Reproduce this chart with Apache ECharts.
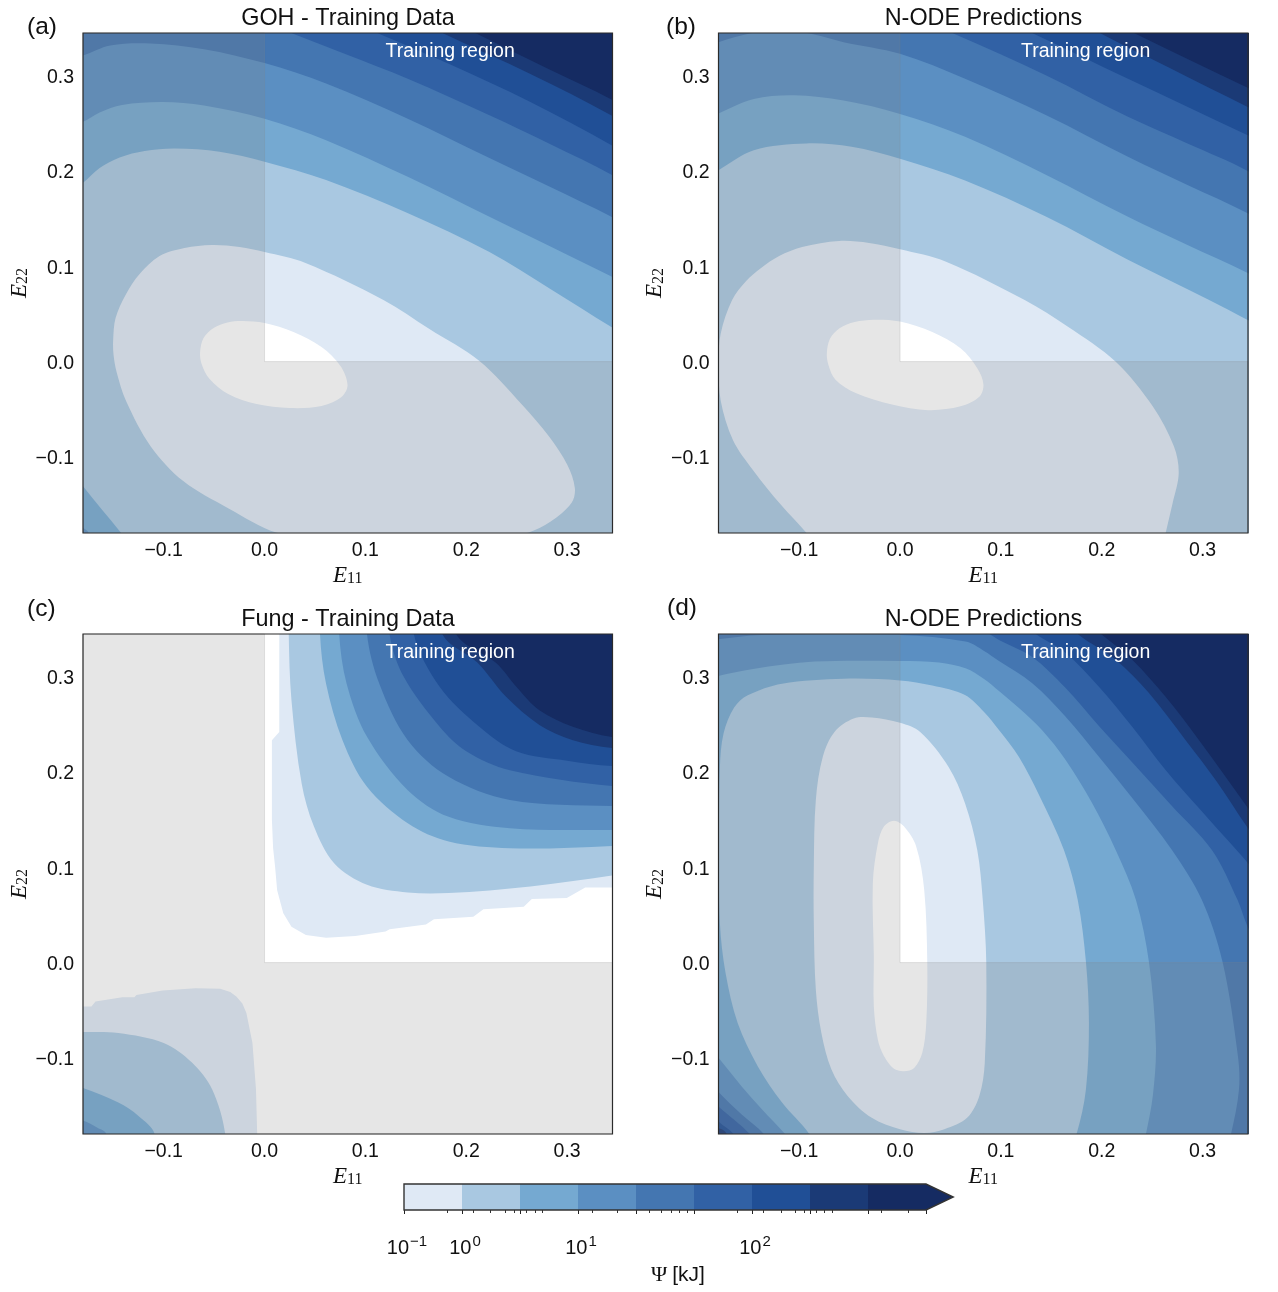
<!DOCTYPE html>
<html>
<head>
<meta charset="utf-8">
<title>Strain energy contours</title>
<script src="https://cdn.jsdelivr.net/npm/echarts@6/dist/echarts.min.js"></script>
<style>
  html, body { margin: 0; padding: 0; background: #fff; }
  #main { width: 1278px; height: 1292px; }
</style>
</head>
<body>
<div id="main"></div>
<script>
// colours of the contourf bands, light to dark
const bandColors = ['#dfe9f5', '#a9c8e1', '#75a9d1', '#5b8fc2', '#4476b1', '#3161a5', '#204f96', '#1b3a76', '#152b62'];
const underColor = '#ffffff';

const axisLimits = [-0.18, 0.345];
const tickValues = [-0.1, 0, 0.1, 0.2, 0.3];
const panelTitles = ['GOH - Training Data', 'N-ODE Predictions', 'Fung - Training Data', 'N-ODE Predictions'];
const panelLetters = ['(a)', '(b)', '(c)', '(d)'];

// every ring is [E11, E22], points past the limits only close the shape
const wholeBox = [[-0.6, -0.6], [0.6, -0.6], [0.6, 0.6], [-0.6, 0.6]];

// (a) GOH
const gohLevel0 = [[-0.0639, 0.01], [-0.0605, 0.0247], [-0.0505, 0.0352], [-0.0367, 0.041], [-0.0218, 0.0425], [0, 0.0404], [0.0287, 0.031], [0.0565, 0.0152], [0.0753, -0.0047], [0.0823, -0.0247], [0.0763, -0.0373], [0.0565, -0.0467], [0.0248, -0.0488], [-0.0079, -0.0446], [-0.0361, -0.0341], [-0.0545, -0.0184], [-0.0624, -0.0026]];
const gohLevel1 = [[-0.1501, 0.0226], [-0.1477, 0.0457], [-0.1378, 0.0699], [-0.1239, 0.0919], [-0.1041, 0.1108], [-0.0793, 0.1192], [-0.0525, 0.1224], [-0.0248, 0.1203], [0, 0.115], [0.0406, 0.1035], [0.1179, 0.0646], [0.1635, 0.0341], [0.2131, 0.0005], [0.2547, -0.0446], [0.2825, -0.0793], [0.3003, -0.1087], [0.3077, -0.1329], [0.3043, -0.1486], [0.2834, -0.1683], [0.2612, -0.1798], [0.15, -0.215], [0.0124, -0.1798], [-0.0361, -0.1539], [-0.0806, -0.1255], [-0.113, -0.0888], [-0.1373, -0.0415], [-0.1467, -0.011], [-0.1497, 0.0068]];
const gohLevel2 = [[-0.18, 0.1878], [-0.1635, 0.2033], [-0.1437, 0.2143], [-0.1189, 0.2211], [-0.0887, 0.2237], [-0.0446, 0.2204], [0, 0.2099], [0.061, 0.1907], [0.1417, 0.156], [0.223, 0.115], [0.2834, 0.0762], [0.3439, 0.0362], [0.4, 0], [0.5, -0.1], [0.5, -0.35], [-0.1, -0.35], [-0.12, -0.21], [-0.143, -0.179], [-0.18, -0.131], [-0.21, -0.09], [-0.26, 0], [-0.26, 0.1], [-0.21, 0.165]];
const gohLevel3 = [[-0.18, 0.2517], [-0.1635, 0.2616], [-0.1413, 0.2695], [-0.101, 0.2726], [-0.06, 0.269], [0, 0.255], [0.061, 0.2325], [0.142, 0.194], [0.223, 0.152], [0.284, 0.1205], [0.3445, 0.089], [0.4, 0.06], [0.5, -0.1], [0.5, -0.35], [-0.15, -0.35], [-0.1745, -0.18], [-0.18, -0.1745], [-0.26, -0.1], [-0.26, 0.2], [-0.22, 0.235]];
const gohLevel4 = [[-0.18, 0.3215], [-0.153, 0.332], [-0.113, 0.334], [-0.06, 0.328], [0, 0.3134], [0.061, 0.292], [0.142, 0.255], [0.223, 0.2137], [0.2834, 0.1833], [0.3439, 0.1521], [0.4, 0.12], [0.5, -0.1], [0.5, -0.35], [-0.3, -0.35], [-0.3, 0.28], [-0.22, 0.31]];
const gohLevel5 = [[-0.3, 0.42], [-0.05, 0.377], [0.029, 0.344], [0.08, 0.323], [0.142, 0.297], [0.223, 0.2586], [0.284, 0.228], [0.3445, 0.196], [0.4, 0.16], [0.5, -0.1], [0.5, -0.35], [-0.3, -0.35]];
const gohLevel6 = [[-0.3, 0.45], [0.05, 0.373], [0.114, 0.344], [0.1826, 0.3127], [0.2636, 0.2726], [0.3445, 0.227], [0.4, 0.19], [0.5, -0.1], [0.5, -0.35], [-0.3, -0.35]];
const gohLevel7 = [[-0.3, 0.45], [0.12, 0.375], [0.1785, 0.344], [0.2636, 0.302], [0.3445, 0.258], [0.4, 0.22], [0.5, -0.1], [0.5, -0.35], [-0.3, -0.35]];
const gohLevel8 = [[-0.3, 0.45], [0.15, 0.375], [0.211, 0.344], [0.28, 0.308], [0.3445, 0.275], [0.4, 0.24], [0.5, -0.1], [0.5, -0.35], [-0.3, -0.35]];

// (b) N-ODE on GOH
const nodeGohLevel0 = [[-0.0726, 0.0087], [-0.0695, 0.024], [-0.06, 0.035], [-0.045, 0.0415], [-0.026, 0.044], [0, 0.042], [0.032, 0.031], [0.06, 0.014], [0.0766, -0.007], [0.0827, -0.024], [0.0786, -0.037], [0.06, -0.047], [0.028, -0.051], [-0.008, -0.045], [-0.044, -0.033], [-0.064, -0.019], [-0.071, -0.0035]];
const nodeGohLevel1 = [[-0.18, 0], [-0.1778, 0.0296], [-0.1665, 0.0646], [-0.1526, 0.0846], [-0.1378, 0.0982], [-0.1199, 0.1108], [-0.0971, 0.1203], [-0.0605, 0.1266], [-0.0307, 0.1245], [0, 0.1179], [0.0456, 0.1049], [0.1236, 0.0646], [0.1665, 0.0366], [0.2136, 0], [0.2507, -0.0473], [0.2716, -0.0893], [0.2763, -0.1172], [0.2703, -0.1485], [0.2634, -0.1797], [0.2567, -0.21], [0.1, -0.3], [-0.07, -0.21], [-0.0929, -0.1797], [-0.1179, -0.1507], [-0.1457, -0.114], [-0.1656, -0.0825], [-0.1778, -0.0412]];
const nodeGohLevel2 = [[-0.18, 0.201], [-0.145, 0.222], [-0.093, 0.229], [-0.048, 0.2255], [0, 0.213], [0.0645, 0.19], [0.145, 0.152], [0.226, 0.107], [0.306, 0.065], [0.3447, 0.0436], [0.4, 0.01], [0.5, -0.1], [0.5, -0.35], [-0.3, -0.35], [-0.3, 0.1], [-0.22, 0.175]];
const nodeGohLevel3 = [[-0.18, 0.2604], [-0.145, 0.2757], [-0.105, 0.2796], [-0.056, 0.274], [0, 0.26], [0.0645, 0.236], [0.145, 0.196], [0.226, 0.152], [0.285, 0.1225], [0.3447, 0.093], [0.4, 0.06], [0.5, -0.1], [0.5, -0.35], [-0.3, -0.35], [-0.3, 0.2], [-0.22, 0.24]];
const nodeGohLevel4 = [[-0.18, 0.3354], [-0.15, 0.3443], [-0.115, 0.348], [-0.085, 0.3435], [-0.056, 0.3354], [0, 0.3232], [0.0645, 0.297], [0.145, 0.2586], [0.226, 0.215], [0.285, 0.1855], [0.3447, 0.1557], [0.4, 0.12], [0.5, -0.1], [0.5, -0.35], [-0.3, -0.35], [-0.3, 0.28], [-0.22, 0.32]];
const nodeGohLevel5 = [[-0.3, 0.45], [-0.02, 0.377], [0.054, 0.344], [0.145, 0.3005], [0.226, 0.257], [0.285, 0.229], [0.3447, 0.2], [0.4, 0.16], [0.5, -0.1], [0.5, -0.35], [-0.3, -0.35]];
const nodeGohLevel6 = [[-0.3, 0.45], [0.07, 0.375], [0.133, 0.344], [0.226, 0.297], [0.3447, 0.2377], [0.4, 0.21], [0.5, -0.1], [0.5, -0.35], [-0.3, -0.35]];
const nodeGohLevel7 = [[-0.3, 0.45], [0.14, 0.38], [0.2, 0.344], [0.266, 0.309], [0.3447, 0.2674], [0.4, 0.24], [0.5, -0.1], [0.5, -0.35], [-0.3, -0.35]];
const nodeGohLevel8 = [[-0.3, 0.45], [0.17, 0.38], [0.234, 0.344], [0.3447, 0.2876], [0.4, 0.26], [0.5, -0.1], [0.5, -0.35], [-0.3, -0.35]];

// (c) Fung, upper right lobe then lower left lobe
const fungUpper0 = [[0.0146, 0.45], [0.0146, 0.2422], [0.0073, 0.2335], [0.0073, 0.15], [0.0085, 0.12], [0.0105, 0.1], [0.0125, 0.076], [0.0186, 0.0517], [0.0267, 0.0377], [0.041, 0.029], [0.061, 0.026], [0.09, 0.028], [0.12, 0.0325], [0.124, 0.035], [0.16, 0.04], [0.168, 0.0454], [0.207, 0.048], [0.217, 0.056], [0.257, 0.0586], [0.265, 0.0667], [0.2997, 0.0677], [0.318, 0.0789], [0.45, 0.0789], [0.45, 0.45]];
const fungUpper1 = [[0.024, 0.45], [0.024, 0.345], [0.0267, 0.2754], [0.0368, 0.188], [0.049, 0.1428], [0.069, 0.1044], [0.1016, 0.0817], [0.142, 0.0736], [0.1826, 0.073], [0.2636, 0.08], [0.3445, 0.0914], [0.45, 0.11], [0.45, 0.45]];
const fungUpper2 = [[0.054, 0.45], [0.055, 0.345], [0.061, 0.2928], [0.0773, 0.2335], [0.1016, 0.1846], [0.142, 0.1462], [0.1826, 0.127], [0.2433, 0.12], [0.3445, 0.1225], [0.45, 0.13], [0.45, 0.45]];
const fungUpper3 = [[0.072, 0.45], [0.074, 0.345], [0.0814, 0.2928], [0.1016, 0.237], [0.142, 0.181], [0.1826, 0.153], [0.2433, 0.141], [0.3445, 0.1393], [0.45, 0.14], [0.45, 0.45]];
const fungUpper4 = [[0.098, 0.45], [0.1016, 0.345], [0.1138, 0.2928], [0.142, 0.2335], [0.1826, 0.195], [0.2433, 0.1707], [0.3445, 0.1644], [0.45, 0.165], [0.45, 0.45]];
const fungUpper5 = [[0.118, 0.45], [0.124, 0.345], [0.138, 0.3], [0.1734, 0.248], [0.2, 0.222], [0.2433, 0.202], [0.3445, 0.1854], [0.45, 0.18], [0.45, 0.45]];
const fungUpper6 = [[0.14, 0.45], [0.148, 0.345], [0.1734, 0.29], [0.213, 0.2477], [0.2494, 0.222], [0.3, 0.212], [0.3445, 0.2063], [0.45, 0.2], [0.45, 0.45]];
const fungUpper7 = [[0.15, 0.45], [0.1763, 0.345], [0.211, 0.315], [0.2395, 0.279], [0.2725, 0.2495], [0.305, 0.2337], [0.3445, 0.2253], [0.45, 0.215], [0.45, 0.45]];
const fungUpper8 = [[0.16, 0.45], [0.19, 0.345], [0.2296, 0.3145], [0.2494, 0.29], [0.2725, 0.265], [0.305, 0.248], [0.3445, 0.2368], [0.45, 0.225], [0.45, 0.45]];
const fungLower0 = [[-0.3, -0.046], [-0.1716, -0.046], [-0.1676, -0.041], [-0.141, -0.0363], [-0.129, -0.0363], [-0.127, -0.034], [-0.101, -0.0293], [-0.0684, -0.027], [-0.044, -0.0276], [-0.034, -0.031], [-0.028, -0.0356], [-0.022, -0.043], [-0.018, -0.053], [-0.012, -0.0845], [-0.0085, -0.133], [-0.0073, -0.18], [-0.007, -0.3], [-0.3, -0.3]];
const fungLower1 = [[-0.3, -0.073], [-0.18, -0.073], [-0.145, -0.074], [-0.1, -0.0845], [-0.072, -0.105], [-0.052, -0.133], [-0.039, -0.18], [-0.03, -0.3], [-0.3, -0.3]];
const fungLower2 = [[-0.3, -0.09], [-0.18, -0.1316], [-0.145, -0.147], [-0.125, -0.161], [-0.109, -0.18], [-0.09, -0.3], [-0.3, -0.3]];
const fungLower3 = [[-0.3, -0.13], [-0.18, -0.1658], [-0.1657, -0.1735], [-0.157, -0.18], [-0.14, -0.3], [-0.3, -0.3]];

// (d) N-ODE on Fung
const nodeFungLevel0 = [[-0.006, 0.149], [-0.016, 0.1428], [-0.022, 0.125], [-0.027, 0.0834], [-0.026, 0.006], [-0.026, -0.046], [-0.022, -0.081], [-0.016, -0.098], [-0.006, -0.1115], [0.004, -0.114], [0.014, -0.1106], [0.022, -0.095], [0.026, -0.0635], [0.027, 0], [0.024, 0.076], [0.016, 0.122], [0.004, 0.1428]];
const nodeFungLevel1 = [[-0.028, 0.2572], [-0.046, 0.2562], [-0.065, 0.2422], [-0.0766, 0.216], [-0.0835, 0.1707], [-0.0855, 0.101], [-0.0855, 0.041], [-0.0835, -0.0286], [-0.078, -0.074], [-0.068, -0.1124], [-0.052, -0.14], [-0.028, -0.163], [0, -0.175], [0.024, -0.179], [0.044, -0.175], [0.0665, -0.163], [0.0786, -0.14], [0.084, -0.1054], [0.0855, 0], [0.082, 0.066], [0.0766, 0.118], [0.0645, 0.167], [0.048, 0.2056], [0.02, 0.242], [0, 0.2517]];
const nodeFungLevel2 = [[-0.117, 0.2928], [-0.056, 0.298], [0, 0.2963], [0.032, 0.291], [0.0644, 0.281], [0.0833, 0.2631], [0.0981, 0.2442], [0.1179, 0.2159], [0.1378, 0.176], [0.1625, 0.1182], [0.1762, 0.0657], [0.1843, 0.0009], [0.1873, -0.0636], [0.1843, -0.1334], [0.175, -0.1801], [0.16, -0.22], [-0.05, -0.25], [-0.09, -0.18], [-0.117, -0.147], [-0.141, -0.109], [-0.161, -0.0635], [-0.173, -0.011], [-0.1786, 0.041], [-0.1795, 0.12], [-0.1786, 0.2056], [-0.175, 0.2405], [-0.1645, 0.2677], [-0.151, 0.2806]];
const nodeFungLevel3 = [[-0.1805, 0.3009], [-0.1457, 0.3083], [-0.0847, 0.316], [0, 0.3167], [0.0387, 0.3151], [0.0649, 0.309], [0.0833, 0.2978], [0.0981, 0.2852], [0.1179, 0.2673], [0.1407, 0.2442], [0.1642, 0.2127], [0.1904, 0.1675], [0.2138, 0.1182], [0.2339, 0.0657], [0.2468, 0.0005], [0.2537, -0.0867], [0.2507, -0.1392], [0.2438, -0.1801], [0.23, -0.25], [-0.08, -0.25], [-0.09, -0.21], [-0.114, -0.18], [-0.137, -0.154], [-0.157, -0.13], [-0.18, -0.1], [-0.21, -0.06], [-0.25, 0.1], [-0.22, 0.29]];
const nodeFungLevel4 = [[-0.1805, 0.3395], [-0.1374, 0.344], [0, 0.344], [0.0649, 0.337], [0.0833, 0.3272], [0.0981, 0.3167], [0.1308, 0.2936], [0.1642, 0.2582], [0.1972, 0.2162], [0.2302, 0.1728], [0.2696, 0.1182], [0.2993, 0.0657], [0.3198, 0.0005], [0.335, -0.0982], [0.336, -0.1339], [0.3281, -0.1801], [0.31, -0.25], [-0.1, -0.25], [-0.115, -0.21], [-0.135, -0.18], [-0.157, -0.1595], [-0.18, -0.136], [-0.21, -0.1], [-0.25, 0.3], [-0.22, 0.335]];
const nodeFungLevel5 = [[-0.3, 0.45], [0.06, 0.362], [0.0981, 0.3388], [0.1308, 0.3212], [0.1642, 0.2883], [0.1972, 0.2484], [0.2299, 0.2106], [0.2696, 0.1644], [0.3092, 0.1182], [0.3347, 0.0657], [0.3439, 0.0394], [0.37, -0.02], [0.4, -0.25], [-0.12, -0.25], [-0.13, -0.21], [-0.149, -0.18], [-0.18, -0.151], [-0.22, -0.11]];
const nodeFungLevel6 = [[-0.3, 0.45], [0.09, 0.38], [0.1345, 0.345], [0.1642, 0.325], [0.1972, 0.2897], [0.2302, 0.2477], [0.2633, 0.2022], [0.2963, 0.1622], [0.336, 0.1152], [0.344, 0.1056], [0.38, 0.06], [0.4, -0.25], [-0.14, -0.25], [-0.15, -0.2], [-0.165, -0.18], [-0.18, -0.167], [-0.22, -0.125]];
const nodeFungLevel7 = [[-0.3, 0.45], [0.14, 0.38], [0.1774, 0.344], [0.2138, 0.318], [0.2468, 0.283], [0.283, 0.2337], [0.3129, 0.1917], [0.344, 0.1426], [0.38, 0.09], [0.4, -0.25], [-0.16, -0.25], [-0.172, -0.18], [-0.18, -0.174], [-0.3, -0.15]];
const nodeFungLevel8 = [[-0.3, 0.45], [0.16, 0.38], [0.2005, 0.344], [0.2302, 0.318], [0.2633, 0.279], [0.2963, 0.2337], [0.344, 0.1637], [0.38, 0.11], [0.4, -0.25], [-0.3, -0.25]];

// colour bar: positions on a 0..9 uniform scale
const cbarMajorTicks = [0, 1, 2, 3, 4, 5, 6, 7, 8, 9];
const cbarMinorTicks = [0.744, 1.186, 1.494, 1.739, 1.905, 2.114, 2.262, 2.385, 3.245, 3.675, 4.229, 4.438, 4.61, 4.745, 4.886, 5.747, 6.195, 6.503, 6.749, 6.902, 7.1, 7.25, 7.39, 8.236, 8.69];
const cbarLabelTicks = [0, 1, 3, 6];
const cbarLabelPowers = ['−1', '0', '1', '2'];
const cbarArrow = [[9, 0], [9.47, 0.5], [9, 1]];

const SANS = '"Liberation Sans", Arial, sans-serif';
const SERIF = '"Liberation Serif", "DejaVu Serif", serif';
const INK = '#111';
const SMOOTH = 0.33;

// paint order is back to front; a ring takes the colour of the band just under its level
function descending(rings, lastColor) {
    const bands = [{ ring: wholeBox, color: bandColors[8], smooth: 0 }];
    for (let i = rings.length - 1; i >= 0; i--) {
        bands.push({ ring: rings[i], color: i === 0 ? lastColor : bandColors[i - 1], smooth: SMOOTH });
    }
    return bands;
}

const panelBands = [
    descending([gohLevel0, gohLevel1, gohLevel2, gohLevel3, gohLevel4, gohLevel5, gohLevel6, gohLevel7, gohLevel8], underColor),
    descending([nodeGohLevel0, nodeGohLevel1, nodeGohLevel2, nodeGohLevel3, nodeGohLevel4, nodeGohLevel5, nodeGohLevel6, nodeGohLevel7, nodeGohLevel8], underColor),
    [{ ring: wholeBox, color: underColor, smooth: 0 }].concat(
        [fungUpper0, fungUpper1, fungUpper2, fungUpper3, fungUpper4, fungUpper5, fungUpper6, fungUpper7, fungUpper8]
            .map((ring, i) => ({ ring, color: bandColors[i], smooth: i === 0 ? 0 : SMOOTH })),
        [fungLower0, fungLower1, fungLower2, fungLower3]
            .map((ring, i) => ({ ring, color: bandColors[i], smooth: i === 0 ? 0 : SMOOTH }))
    ),
    descending([nodeFungLevel0, nodeFungLevel1, nodeFungLevel2, nodeFungLevel3, nodeFungLevel4, nodeFungLevel5, nodeFungLevel6, nodeFungLevel7, nodeFungLevel8], underColor)
];

const panelBoxes = [
    { left: 83, top: 33, letterLeft: 27, letterTop: 15 },
    { left: 718.5, top: 33, letterLeft: 666, letterTop: 15 },
    { left: 83, top: 634, letterLeft: 27, letterTop: 597 },
    { left: 718.5, top: 634, letterLeft: 667, letterTop: 596 }
];

const [lo, hi] = axisLimits;

function tickText(v) {
    return '{t|' + (v < 0 ? '−' : '') + Math.abs(v).toFixed(1) + '}';
}

function strainAxis(gridIndex, name, gap, labelPadding, margin) {
    return {
        type: 'value',
        gridIndex,
        min: lo,
        max: hi,
        splitLine: { show: false },
        axisLine: { show: false },
        axisTick: { show: true, customValues: tickValues, length: 4, lineStyle: { color: '#222', width: 1 } },
        axisLabel: {
            customValues: tickValues,
            formatter: tickText,
            margin,
            rich: { t: { fontFamily: SANS, fontSize: 19.5, color: INK, padding: labelPadding } }
        },
        name,
        nameLocation: 'middle',
        nameGap: gap,
        nameTextStyle: {
            rich: {
                e: { fontFamily: SERIF, fontStyle: 'italic', fontSize: 23, color: INK },
                s: { fontFamily: SERIF, fontSize: 16, color: INK, verticalAlign: 'bottom', padding: [7, 0, 0, 0] }
            }
        }
    };
}

const grids = panelBoxes.map(b => ({ left: b.left, top: b.top, width: 529.5, height: 500 }));
const xAxes = panelBoxes.map((b, i) => strainAxis(i, '{e|E}{s|11}', 31, 0, 8));
const yAxes = panelBoxes.map((b, i) => strainAxis(i, '{e|E}{s|22}', 52, [4, 0, 0, 0], 9));

const series = [];
panelBands.forEach((bands, i) => {
    series.push({
        type: 'custom',
        xAxisIndex: i,
        yAxisIndex: i,
        clip: true,
        silent: true,
        z: 2,
        data: bands.map((b, k) => [k]),
        renderItem(params, api) {
            const band = bands[params.dataIndex];
            return {
                type: 'polygon',
                shape: { points: band.ring.map(p => api.coord(p)), smooth: band.smooth },
                style: { fill: band.color }
            };
        }
    });
    // grey veil over the part outside the training region, its label and the box
    series.push({
        type: 'custom',
        xAxisIndex: i,
        yAxisIndex: i,
        clip: false,
        silent: true,
        z: 3,
        data: [[0]],
        renderItem(params, api) {
            const veil = [[lo, lo], [hi, lo], [hi, 0], [0, 0], [0, hi], [lo, hi]];
            const box = [[lo, lo], [hi, lo], [hi, hi], [lo, hi]];
            const at = api.coord([0.184, 0.325]);
            return {
                type: 'group',
                children: [
                    {
                        type: 'polygon',
                        shape: { points: veil.map(p => api.coord(p)) },
                        style: { fill: 'rgba(128,128,128,0.2)', stroke: 'rgba(128,128,128,0.2)', lineWidth: 1 }
                    },
                    {
                        type: 'text',
                        style: { text: 'Training region', x: at[0], y: at[1], fill: '#fff', font: '19.5px ' + SANS, align: 'center', verticalAlign: 'middle' }
                    },
                    {
                        type: 'polygon',
                        shape: { points: box.map(p => api.coord(p)) },
                        style: { fill: 'none', stroke: '#2b2b2b', lineWidth: 1.2 }
                    }
                ]
            };
        }
    });
});

// colour bar grid is the fifth one
grids.push({ left: 404, top: 1184, width: 522, height: 26 });
xAxes.push({
    type: 'value',
    gridIndex: 4,
    position: 'bottom',
    min: 0,
    max: 9,
    splitLine: { show: false },
    axisLine: { show: false },
    axisTick: { show: true, customValues: cbarMajorTicks, length: 4, lineStyle: { color: '#222', width: 1 } },
    axisLabel: {
        customValues: cbarLabelTicks,
        margin: 24,
        padding: [0, 0, 0, 6],
        formatter: v => '{b|10}{p|' + cbarLabelPowers[cbarLabelTicks.indexOf(v)] + '}',
        rich: {
            b: { fontFamily: SANS, fontSize: 20, color: INK },
            p: { fontFamily: SANS, fontSize: 15, color: INK, verticalAlign: 'top', padding: [0, 0, 14, 1] }
        }
    }
});
xAxes.push({
    type: 'value',
    gridIndex: 4,
    position: 'bottom',
    min: 0,
    max: 9,
    splitLine: { show: false },
    axisLine: { show: false },
    axisLabel: { show: false },
    axisTick: { show: true, customValues: cbarMinorTicks, length: 3, lineStyle: { color: '#333', width: 1 } }
});
yAxes.push({ type: 'value', gridIndex: 4, min: 0, max: 1, show: false });

series.push({
    type: 'custom',
    xAxisIndex: 4,
    yAxisIndex: 4,
    clip: false,
    silent: true,
    z: 2,
    data: bandColors.map((c, i) => [i]),
    renderItem(params, api) {
        const i = params.dataIndex;
        const corners = [[i, 0], [i + 1, 0], [i + 1, 1], [i, 1]];
        return {
            type: 'polygon',
            shape: { points: corners.map(p => api.coord(p)) },
            style: { fill: bandColors[i] }
        };
    }
});
series.push({
    type: 'custom',
    xAxisIndex: 4,
    yAxisIndex: 4,
    clip: false,
    silent: true,
    z: 3,
    data: [[0]],
    renderItem(params, api) {
        const outline = [[0, 0], ...cbarArrow, [0, 1]];
        return {
            type: 'group',
            children: [
                { type: 'polygon', shape: { points: cbarArrow.map(p => api.coord(p)) }, style: { fill: bandColors[8] } },
                { type: 'polygon', shape: { points: outline.map(p => api.coord(p)) }, style: { fill: 'none', stroke: '#333', lineWidth: 1.4 } }
            ]
        };
    }
});

const titles = [];
panelBoxes.forEach((b, i) => {
    titles.push({
        text: panelTitles[i],
        left: b.left + 265,
        top: b.top - 26,
        padding: 0,
        textAlign: 'center',
        textStyle: { fontFamily: SANS, fontSize: 23.4, fontWeight: 'normal', color: '#111' }
    });
    titles.push({
        text: panelLetters[i],
        left: b.letterLeft,
        top: b.letterTop,
        padding: 0,
        textStyle: { fontFamily: SANS, fontSize: 24.5, fontWeight: 'normal', color: '#111' }
    });
});
titles.push({
    text: '{g|Ψ} {k|[kJ]}',
    left: 678,
    top: 1264,
    padding: 0,
    textAlign: 'center',
    textStyle: {
        fontWeight: 'normal',
        rich: {
            g: { fontFamily: SERIF, fontSize: 22, fontWeight: 'normal', color: INK },
            k: { fontFamily: SANS, fontSize: 21, fontWeight: 'normal', color: INK }
        }
    }
});

const chart = echarts.init(document.getElementById('main'));
chart.setOption({
    animation: false,
    backgroundColor: '#fff',
    title: titles,
    grid: grids,
    xAxis: xAxes,
    yAxis: yAxes,
    series
});
</script>
</body>
</html>
